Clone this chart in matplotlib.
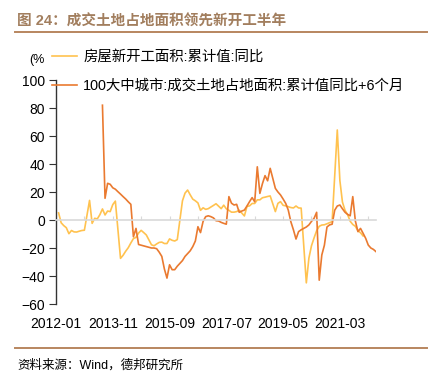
import numpy as np
import pandas as pd
import matplotlib
matplotlib.use('Agg')
import matplotlib.pyplot as plt
from matplotlib.lines import Line2D

plt.rcParams['font.family'] = ['Liberation Sans', 'Noto Sans CJK SC', 'DejaVu Sans']

# 房屋新开工面积:累计值:同比, Feb..Dec of each year (Jan not published)
starts_2012 = [5.1, -2.0, -4.0, -5.5, -9.8, -7.5, -8.5, -8.6, -8.0, -7.5, -7.3]
starts_2013 = [14.0, -2.4, 1.2, 0.8, 3.8, 7.9, 3.6, 6.4, 6.0, 11.0, 13.5]
starts_2014 = [-27.4, -25.2, -22.3, -19.8, -16.4, -13.3, -12.4, -9.3, -7.4, -9.0, -10.7]
starts_2015 = [-17.7, -18.4, -17.1, -16.0, -15.8, -16.8, -16.8, -13.5, -14.5, -15.0, -14.0]
starts_2016 = [13.7, 19.2, 21.4, 18.0, 14.9, 13.7, 12.2, 6.9, 8.7, 7.6, 8.1]
starts_2017 = [10.4, 11.6, 9.9, 8.1, 10.6, 8.0, 6.9, 5.6, 5.6, 6.0, 7.0]
starts_2018 = [2.9, 9.7, 10.1, 11.8, 11.8, 14.4, 14.4, 15.9, 16.3, 16.8, 17.2]
starts_2019 = [6.0, 11.9, 13.1, 10.5, 10.1, 9.5, 8.9, 8.6, 10.0, 8.6, 8.5]
starts_2020 = [-44.9, -27.2, -18.4, -12.8, -7.6, -4.5, -3.6, -3.4, -2.7, -1.9, -1.2]
starts_2021 = [64.3, 28.2, 12.8, 6.9, 3.8, -0.9, -3.2, -4.5, -7.7, -9.1, -11.4]

# 100大中城市:成交土地占地面积:累计值同比, shifted +6 months, 2013-07 .. 2022-05
land = [82, 15.5, 26.2, 25.5, 23, 22,
        20.2, 18.5, 16.7, 15, 13, 11.2, -12, -6, -17.5, -18, -18.5, -19,
        -19.5, -20, -20, -20.5, -23, -26, -35, -41.5, -32, -35.5, -35.5, -33,
        -31, -29, -26, -24, -22, -19, -15, -4.8, -9, -1, 2.4, 3,
        2.4, 1.5, -0.5, -0.7, -1.7, -2.4, -3, 16.7, 12, 10.7, 11.2, 5.5,
        6.4, 7.1, 10, 13.1, 16, 13, 38, 19, 26, 31.7, 28, 36.9,
        29.8, 22.6, 20, 17.9, 15, 11.9, 7.1, -1.2, -7, -13.6, -8.3, -7,
        -6, -5, -3.5, -1, 1.2, 5.5, -43, -25, -18, -5, -3.5, -3,
        7, 10, 10.7, 8, 5.5, 4, 3, 16.7, -0.7, -8.3, -6, -9.5,
        -13.1, -17.9, -20, -21, -22.6]
land_start = '2013-07'

months = pd.date_range('2012-01-01', '2022-05-01', freq='MS')
idx = np.arange(len(months))

starts = []
for year in [starts_2012, starts_2013, starts_2014, starts_2015, starts_2016,
             starts_2017, starts_2018, starts_2019, starts_2020, starts_2021]:
    starts += [np.nan] + year
starts = pd.Series(starts, index=idx[:len(starts)]).dropna()

land_off = months.get_loc(pd.Timestamp(land_start))
land = pd.Series(land, index=idx[land_off:land_off + len(land)])

c_yellow = '#FFC24F'
c_orange = '#EA7A30'

fig = plt.figure(figsize=(4.32, 3.72), dpi=100)
ax = fig.add_axes([56 / 432, 68 / 372, 320 / 432, 224 / 372])

ax.plot(starts.index, starts.values, color=c_yellow, lw=1.2,
        label='房屋新开工面积:累计值:同比')
ax.plot(land.index, land.values, color=c_orange, lw=1.2,
        label='100大中城市:成交土地占地面积:累计值同比+6个月')

ax.set_xlim(0, len(months) - 1)
ax.set_ylim(-60, 100)
ax.set_yticks(np.arange(-60, 101, 20))

for s in ['top', 'right']:
    ax.spines[s].set_visible(False)
ax.spines['left'].set_color('#333333')
ax.spines['left'].set_linewidth(1.0)
ax.spines['bottom'].set_position(('data', 0))
ax.spines['bottom'].set_color('#d9d9d9')
ax.spines['bottom'].set_linewidth(1.2)

ax.set_xticks(idx[11::11])
ax.tick_params(axis='x', direction='in', length=3, color='#d9d9d9',
               labelbottom=False)
ax.tick_params(axis='y', direction='out', length=5, color='#333333',
               labelsize=10, pad=3)

sec = ax.secondary_xaxis('bottom')
sec.set_xticks(idx[::22], months[::22].strftime('%Y-%m'))
sec.spines['bottom'].set_visible(False)
sec.tick_params(length=0, labelsize=10, pad=9)

ax.text(-0.06, 1.09, '(%', transform=ax.transAxes, fontsize=9,
        ha='center', va='center')

fig.legend(loc='upper left', bbox_to_anchor=(52 / 432, 1 - 50 / 372),
           frameon=False, fontsize=10.4, handlelength=1.75, handletextpad=0.4,
           labelspacing=1.05, borderpad=0, borderaxespad=0)

fig.text(17 / 432, 1 - 22 / 372, '图 24：成交土地占地面积领先新开工半年',
         fontsize=10.5, fontweight='bold', color='#A27E5E', va='center')
fig.add_artist(Line2D([15 / 432, 427 / 432], [1 - 32 / 372] * 2,
                      color='#B8865F', lw=1.4))
fig.add_artist(Line2D([15 / 432, 427 / 432], [1 - 348 / 372] * 2,
                      color='#B8865F', lw=1.4))
fig.text(17 / 432, 1 - 365 / 372, '资料来源：Wind，德邦研究所',
         fontsize=9, va='center')

fig.savefig('out.png', dpi=100)
